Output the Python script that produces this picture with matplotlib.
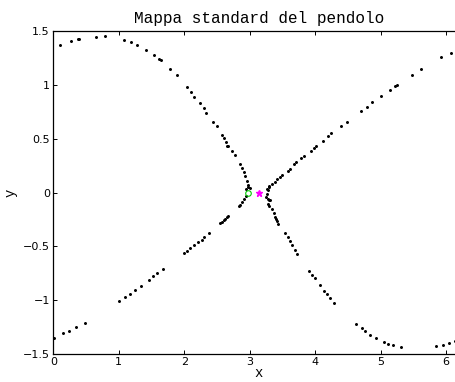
import numpy as np
from matplotlib import pyplot as plt

# orbit points (x, y)
x_upper = [0.10, 0.27, 0.37, 0.39, 0.65, 0.79, 1.08, 1.19, 1.28, 1.42, 1.54, 1.61, 1.64,
           1.79, 1.89, 2.05, 2.10, 2.15, 2.24, 2.30, 2.34, 2.44, 2.50, 2.58, 2.61, 2.64,
           2.66, 2.67, 2.73, 2.77, 2.85, 2.88, 2.91, 2.93, 2.96, 2.98, 3.00, 2.95, 2.97]
y_upper = [1.374, 1.407, 1.423, 1.430, 1.448, 1.451, 1.420, 1.395, 1.370, 1.321, 1.281, 1.244, 1.228,
           1.144, 1.095, 0.977, 0.937, 0.890, 0.828, 0.781, 0.741, 0.654, 0.614, 0.537, 0.505, 0.472,
           0.435, 0.431, 0.388, 0.351, 0.267, 0.226, 0.189, 0.152, 0.109, 0.072, 0.044, 0.034, 0.049]

x_rising = [6.07, 5.93, 5.62, 5.48, 5.25, 5.22, 5.15, 5.01, 4.87, 4.79, 4.70, 4.48, 4.40,
            4.25, 4.19, 4.12, 4.02, 3.98, 3.94, 3.83, 3.78, 3.71, 3.68, 3.62, 3.58, 3.49,
            3.46, 3.42, 3.38, 3.34, 3.30, 3.27, 3.29, 3.28]
y_rising = [1.300, 1.256, 1.147, 1.091, 1.002, 0.986, 0.955, 0.893, 0.837, 0.797, 0.756, 0.658, 0.614,
            0.549, 0.524, 0.481, 0.428, 0.409, 0.388, 0.338, 0.316, 0.282, 0.267, 0.220, 0.202, 0.165,
            0.146, 0.124, 0.102, 0.077, 0.059, 0.031, 0.049, 0.019]

x_lower = [0.015, 0.15, 0.24, 0.34, 0.48, 1.00, 1.10, 1.17, 1.25, 1.34, 1.46, 1.53, 1.59,
           1.68, 2.00, 2.05, 2.09, 2.15, 2.21, 2.27, 2.31, 2.38, 2.55, 2.57, 2.61, 2.62,
           2.65, 2.67, 2.83, 2.85, 2.88, 2.92, 2.94]
y_lower = [-1.352, -1.309, -1.287, -1.253, -1.209, -1.008, -0.971, -0.943, -0.902, -0.865, -0.812, -0.779, -0.751,
           -0.710, -0.558, -0.540, -0.518, -0.490, -0.462, -0.437, -0.416, -0.372, -0.286, -0.273, -0.254, -0.245,
           -0.230, -0.214, -0.127, -0.114, -0.090, -0.059, -0.028]

x_falling = [3.26, 3.25, 3.28, 3.31, 3.29, 3.28, 3.30, 3.34, 3.37, 3.39, 3.41, 3.42, 3.44,
             3.54, 3.58, 3.61, 3.64, 3.69, 3.73, 3.90, 3.95, 4.00, 4.07, 4.14, 4.18,
             4.23, 4.29, 4.62, 4.71, 4.77, 4.84, 4.93, 5.05, 5.11, 5.19, 5.32, 5.84,
             5.96, 6.04, 6.14]
y_falling = [-0.012, -0.044, -0.059, -0.074, -0.074, -0.105, -0.121, -0.152, -0.193, -0.223, -0.250, -0.260, -0.291,
             -0.375, -0.416, -0.447, -0.484, -0.533, -0.570, -0.726, -0.766, -0.793, -0.859, -0.912, -0.942,
             -0.980, -1.030, -1.222, -1.262, -1.287, -1.321, -1.349, -1.386, -1.407, -1.420, -1.439, -1.430,
             -1.417, -1.402, -1.383]

x0, y0 = 2.98, 0.0          # initial condition
xp, yp = np.pi, 0.0         # fixed point

fig = plt.figure(figsize=(4.56, 3.82), dpi=100)
ax = fig.add_axes([0.1169, 0.0733, 0.9018, 0.8455])

for xs, ys in [(x_upper, y_upper), (x_rising, y_rising), (x_lower, y_lower), (x_falling, y_falling)]:
    ax.plot(xs, ys, "k.", markersize=2.3, clip_on=False)
ax.plot(x0, y0, "o", mfc="none", mec="#00cc00", markersize=4, mew=0.8)
ax.plot(xp, yp, "*", color="#ff00ff", markersize=5)

ax.set_xlim(0, 2 * np.pi)
ax.set_ylim(-1.5, 1.5)
ax.set_xticks(range(0, 7))
ax.set_yticks([-1.5, -1, -0.5, 0, 0.5, 1, 1.5])
ax.set_yticklabels(["\u22121.5", "\u22121", "\u22120.5", "0", "0.5", "1", "1.5"])
ax.tick_params(direction="in", top=True, right=True, labelsize=8, length=3, width=0.7, pad=2.5)
for s in ax.spines.values():
    s.set_linewidth(0.9)

mono = "Liberation Mono"
ax.set_title("Mappa standard del pendolo", family=mono, fontsize=11.5, pad=6)
ax.set_xlabel("x", family=mono, fontsize=10, labelpad=-1)
ax.set_ylabel("y", family=mono, fontsize=10, labelpad=4)

plt.savefig("out.png", dpi=100)
plt.close()
